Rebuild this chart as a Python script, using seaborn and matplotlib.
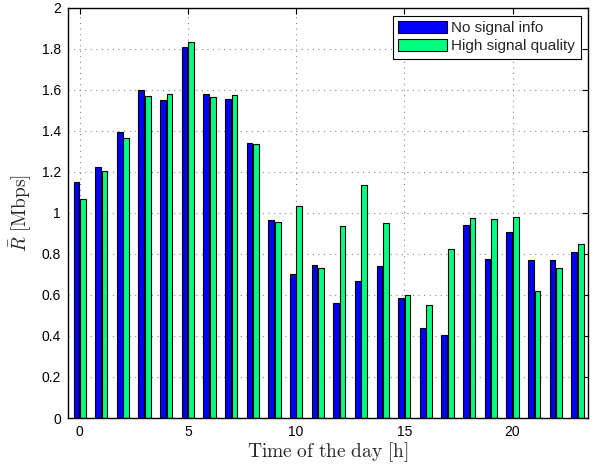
import numpy as np
import pandas as pd
import matplotlib
matplotlib.use("Agg")
import matplotlib.pyplot as plt
import seaborn as sns

hours = list(range(24))
no_signal = [1.15, 1.225, 1.395, 1.60, 1.55, 1.807, 1.578, 1.558, 1.34, 0.964,
             0.70, 0.745, 0.56, 0.67, 0.74, 0.585, 0.44, 0.406, 0.94, 0.774,
             0.906, 0.771, 0.771, 0.81]
high_quality = [1.07, 1.207, 1.366, 1.57, 1.58, 1.833, 1.565, 1.574, 1.338, 0.954,
                1.033, 0.73, 0.935, 1.135, 0.95, 0.60, 0.55, 0.826, 0.977, 0.972,
                0.98, 0.62, 0.73, 0.847]
series_names = ["No signal info", "High signal quality"]
colors = [(0.0, 0.0, 1.0), (0.0, 1.0, 0.5)]

df = pd.DataFrame({
    "hour": hours * 2,
    "rate": no_signal + high_quality,
    "series": [series_names[0]] * len(hours) + [series_names[1]] * len(hours),
})

sns.set_style("white")
plt.rcParams["font.family"] = ["Liberation Sans", "DejaVu Sans"]
plt.rcParams["mathtext.fontset"] = "cm"

fig = plt.figure(figsize=(5.97, 4.66), dpi=100)
ax = fig.add_axes([0.1134, 0.103, 0.8720, 0.880])

sns.barplot(data=df, x="hour", y="rate", hue="series", palette=colors,
            native_scale=True, width=0.6, gap=0.12, edgecolor="black",
            linewidth=0.8, saturation=1, errorbar=None, ax=ax)

ax.set_xlim(-0.55, 23.5)
ax.set_ylim(0, 2)
ax.set_xticks([0, 5, 10, 15, 20])
ax.set_yticks(np.arange(0, 2.01, 0.2))
ax.set_yticklabels(["%g" % round(v, 1) for v in np.arange(0, 2.01, 0.2)])
ax.tick_params(direction="in", length=4, width=0.8, top=True, right=True,
               labelsize=10, pad=5, colors="black")
ax.grid(True, linestyle=(0, (1, 4)), color="#888888", linewidth=0.8)
ax.set_axisbelow(True)
for s in ax.spines.values():
    s.set_color("black")
    s.set_linewidth(1.0)

ax.set_xlabel(r"$\mathrm{Time\ of\ the\ day\ [h]}$", fontsize=14, labelpad=1)
ax.set_ylabel(r"$\bar{R}\ \mathrm{[Mbps]}$", fontsize=14, labelpad=6)

leg = ax.legend(loc="upper right", fontsize=11, frameon=True, fancybox=False,
                edgecolor="black", framealpha=1, handlelength=3.2,
                handleheight=0.85, borderpad=0.35, labelspacing=0.25,
                handletextpad=0.3, borderaxespad=0.5)
leg.get_frame().set_linewidth(0.8)

fig.savefig("out.png", dpi=100)
